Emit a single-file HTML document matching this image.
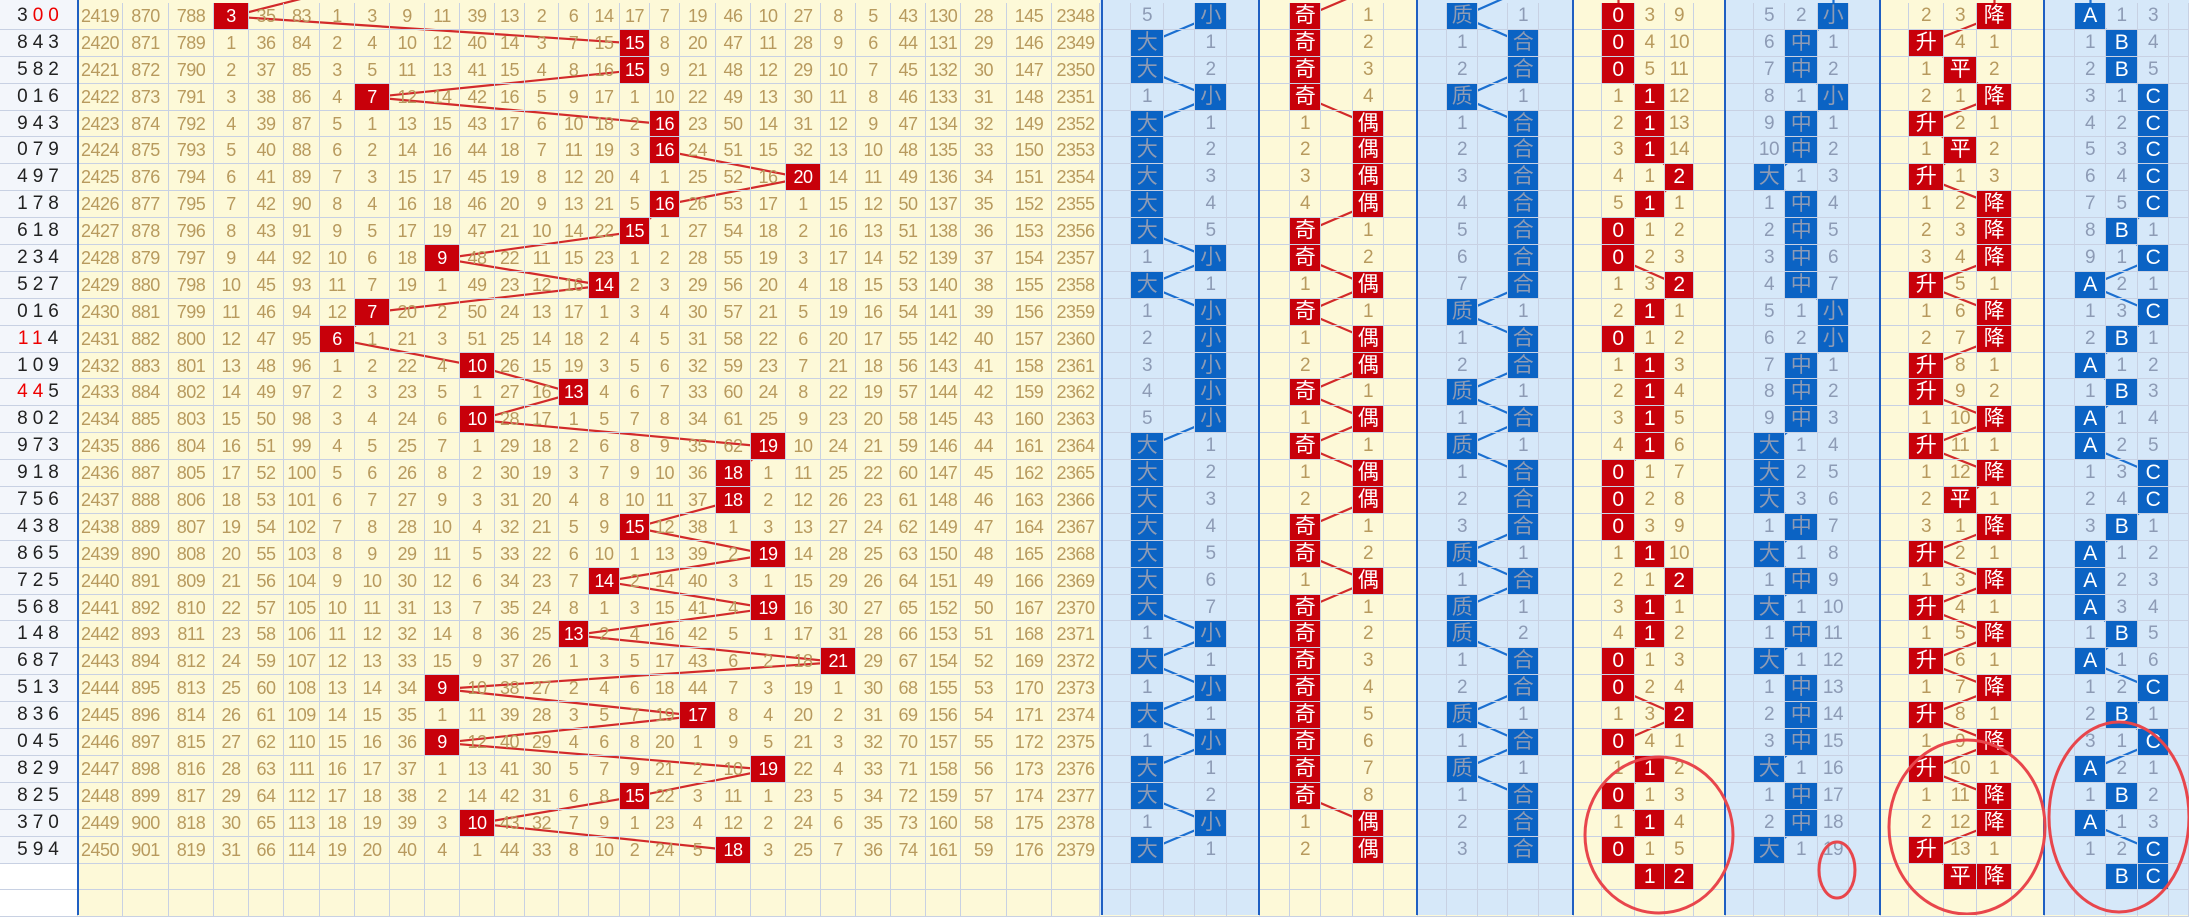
<!DOCTYPE html>
<html><head><meta charset="utf-8"><style>
html,body{margin:0;padding:0}
body{width:2189px;height:915px;overflow:hidden;position:relative;background:#fdf9d8;font-family:"Liberation Sans","Noto Sans CJK SC",sans-serif}
.bg{position:absolute;top:0;height:915px}
.ln{position:absolute;top:0;height:915px;width:2px;background:#1f5fc2;z-index:3}
#rows{position:absolute;top:3px;left:0;z-index:2}
.r{display:grid;height:26.9px;grid-template-columns:78px 45px 46px 45px 35px 35px 36px 35px 35px 35px 35px 35px 30px 34px 30px 31px 30px 30px 36px 35px 35px 35px 35px 35px 35px 35px 46px 45px 48px 31px 33px 31px 32px 33px 30px 31px 32px 31px 34px 29px 31px 30px 31px 35px 28px 33px 30px 29px 32px 28px 31px 33px 31px 32px 28px 35px 33px 35px 33px 30px 31px 32px 31px 20px}
.r>*{display:block;box-sizing:border-box;border-right:1px solid #c8d1e3;border-bottom:1px solid #c8d1e3;text-align:center;line-height:26px;font-size:18px;color:#b89a5e;font-style:normal;font-weight:normal;text-decoration:none;overflow:hidden;white-space:nowrap;letter-spacing:-0.5px}
.r>b{background:#c8000a;color:#fff}
.r>u{background:#0b63c4;color:#fff}
.r>:nth-child(n+30){font-size:19px}
.r>b:nth-child(n+30),.r>u:nth-child(n+30){font-size:21px}
.r>:nth-child(n+30):nth-child(-n+34),.r>:nth-child(n+40):nth-child(-n+44),.r>:nth-child(n+50):nth-child(-n+54),.r>:nth-child(n+60){color:#8d9bb5}
.r>b:nth-child(n+30),.r>u:nth-child(n+30){color:#fff}
.r>:first-child{color:#222;letter-spacing:5px;font-size:19px;background:#f3f6fb;padding-left:4px}
em{color:#e00;font-style:normal}
.r.x>:first-child{background:#fff}
svg{position:absolute;left:0;top:0}
</style></head><body>
<div class="bg" style="left:0;width:78px;background:#f3f6fb"></div>
<div class="bg" style="left:78px;width:1022px;background:#fdf9d8"></div>
<div class="bg" style="left:1100px;width:160px;background:#d6e8f9"></div>
<div class="bg" style="left:1260px;width:158px;background:#fdf9d8"></div>
<div class="bg" style="left:1418px;width:156px;background:#d6e8f9"></div>
<div class="bg" style="left:1574px;width:152px;background:#fdf9d8"></div>
<div class="bg" style="left:1726px;width:155px;background:#d6e8f9"></div>
<div class="bg" style="left:1881px;width:164px;background:#fdf9d8"></div>
<div class="bg" style="left:2045px;width:144px;background:#d6e8f9"></div>
<svg width="2189" height="915" style="z-index:1" fill="none" stroke-width="2.2">
<polyline stroke="#d22a2a" points="337.5,-10.4 231.5,16.5 635,43.4 635,70.3 372.5,97.2 665,124.1 665,151 803.5,177.9 665,204.8 635,231.7 442.5,258.6 604.5,285.5 372.5,312.4 337.5,339.3 477.5,366.2 574,393.1 477.5,420 768.5,446.9 733.5,473.8 733.5,500.7 635,527.6 768.5,554.5 604.5,581.4 768.5,608.3 574,635.2 838.5,662.1 442.5,689 698,715.9 442.5,742.8 768.5,769.7 635,796.6 477.5,823.5 733.5,850.4"/>
<polyline stroke="#1b6fd0" points="1211,16.5 1147.5,43.4 1147.5,70.3 1211,97.2 1147.5,124.1 1147.5,231.7 1211,258.6 1147.5,285.5 1211,312.4 1211,420 1147.5,446.9 1147.5,608.3 1211,635.2 1147.5,662.1 1211,689 1147.5,715.9 1211,742.8 1147.5,769.7 1147.5,796.6 1211,823.5 1147.5,850.4"/>
<polyline stroke="#d22a2a" points="1368.5,-10.4 1305.5,16.5 1305.5,97.2 1368.5,124.1 1368.5,204.8 1305.5,231.7 1305.5,258.6 1368.5,285.5 1305.5,312.4 1368.5,339.3 1368.5,366.2 1305.5,393.1 1368.5,420 1305.5,446.9 1368.5,473.8 1368.5,500.7 1305.5,527.6 1305.5,554.5 1368.5,581.4 1305.5,608.3 1305.5,796.6 1368.5,823.5 1368.5,850.4"/>
<polyline stroke="#1b6fd0" points="1523.5,-10.4 1462.5,16.5 1523.5,43.4 1523.5,70.3 1462.5,97.2 1523.5,124.1 1523.5,285.5 1462.5,312.4 1523.5,339.3 1523.5,366.2 1462.5,393.1 1523.5,420 1462.5,446.9 1523.5,473.8 1523.5,527.6 1462.5,554.5 1523.5,581.4 1462.5,608.3 1462.5,635.2 1523.5,662.1 1523.5,689 1462.5,715.9 1523.5,742.8 1462.5,769.7 1523.5,796.6 1523.5,850.4"/>
<polyline stroke="#d22a2a" points="1618.5,-10.4 1618.5,70.3 1650,97.2 1650,151 1679.5,177.9 1650,204.8 1618.5,231.7 1618.5,258.6 1679.5,285.5 1650,312.4 1618.5,339.3 1650,366.2 1650,446.9 1618.5,473.8 1618.5,527.6 1650,554.5 1679.5,581.4 1650,608.3 1650,635.2 1618.5,662.1 1618.5,689 1679.5,715.9 1618.5,742.8 1650,769.7 1618.5,796.6 1650,823.5 1618.5,850.4"/>
<polyline stroke="#1b6fd0" points="1833.5,-10.4 1833.5,16.5 1801.5,43.4 1801.5,70.3 1833.5,97.2 1801.5,124.1 1801.5,151 1769.5,177.9 1801.5,204.8 1801.5,285.5 1833.5,312.4 1833.5,339.3 1801.5,366.2 1801.5,420 1769.5,446.9 1769.5,500.7 1801.5,527.6 1769.5,554.5 1801.5,581.4 1769.5,608.3 1801.5,635.2 1769.5,662.1 1801.5,689 1801.5,742.8 1769.5,769.7 1801.5,796.6 1801.5,823.5 1769.5,850.4"/>
<polyline stroke="#d22a2a" points="1994.5,-10.4 1994.5,16.5 1926.5,43.4 1960.5,70.3 1994.5,97.2 1926.5,124.1 1960.5,151 1926.5,177.9 1994.5,204.8 1994.5,258.6 1926.5,285.5 1994.5,312.4 1994.5,339.3 1926.5,366.2 1926.5,393.1 1994.5,420 1926.5,446.9 1994.5,473.8 1960.5,500.7 1994.5,527.6 1926.5,554.5 1994.5,581.4 1926.5,608.3 1994.5,635.2 1926.5,662.1 1994.5,689 1926.5,715.9 1994.5,742.8 1926.5,769.7 1994.5,796.6 1994.5,823.5 1926.5,850.4 1960.5,877.3"/>
<polyline stroke="#1b6fd0" points="2090.5,-10.4 2090.5,16.5 2122,43.4 2122,70.3 2153.5,97.2 2153.5,204.8 2122,231.7 2153.5,258.6 2090.5,285.5 2153.5,312.4 2122,339.3 2090.5,366.2 2122,393.1 2090.5,420 2090.5,446.9 2153.5,473.8 2153.5,500.7 2122,527.6 2090.5,554.5 2090.5,608.3 2122,635.2 2090.5,662.1 2153.5,689 2122,715.9 2153.5,742.8 2090.5,769.7 2122,796.6 2090.5,823.5 2153.5,850.4"/>
</svg>
<div id="rows">
<div class=r><i>3<em>00</em></i><i>2419</i><i>870</i><i>788</i><b>3</b><i>35</i><i>83</i><i>1</i><i>3</i><i>9</i><i>11</i><i>39</i><i>13</i><i>2</i><i>6</i><i>14</i><i>17</i><i>7</i><i>19</i><i>46</i><i>10</i><i>27</i><i>8</i><i>5</i><i>43</i><i>130</i><i>28</i><i>145</i><i>2348</i><i></i><i>5</i><i></i><u>小</u><i></i><i></i><b>奇</b><i></i><i>1</i><i></i><i></i><u>质</u><i></i><i>1</i><i></i><i></i><b>0</b><i>3</i><i>9</i><i></i><i></i><i>5</i><i>2</i><u>小</u><i></i><i></i><i>2</i><i>3</i><b>降</b><i></i><i></i><u>A</u><i>1</i><i>3</i><i></i></div>
<div class=r><i>843</i><i>2420</i><i>871</i><i>789</i><i>1</i><i>36</i><i>84</i><i>2</i><i>4</i><i>10</i><i>12</i><i>40</i><i>14</i><i>3</i><i>7</i><i>15</i><b>15</b><i>8</i><i>20</i><i>47</i><i>11</i><i>28</i><i>9</i><i>6</i><i>44</i><i>131</i><i>29</i><i>146</i><i>2349</i><i></i><u>大</u><i></i><i>1</i><i></i><i></i><b>奇</b><i></i><i>2</i><i></i><i></i><i>1</i><i></i><u>合</u><i></i><i></i><b>0</b><i>4</i><i>10</i><i></i><i></i><i>6</i><u>中</u><i>1</i><i></i><i></i><b>升</b><i>4</i><i>1</i><i></i><i></i><i>1</i><u>B</u><i>4</i><i></i></div>
<div class=r><i>582</i><i>2421</i><i>872</i><i>790</i><i>2</i><i>37</i><i>85</i><i>3</i><i>5</i><i>11</i><i>13</i><i>41</i><i>15</i><i>4</i><i>8</i><i>16</i><b>15</b><i>9</i><i>21</i><i>48</i><i>12</i><i>29</i><i>10</i><i>7</i><i>45</i><i>132</i><i>30</i><i>147</i><i>2350</i><i></i><u>大</u><i></i><i>2</i><i></i><i></i><b>奇</b><i></i><i>3</i><i></i><i></i><i>2</i><i></i><u>合</u><i></i><i></i><b>0</b><i>5</i><i>11</i><i></i><i></i><i>7</i><u>中</u><i>2</i><i></i><i></i><i>1</i><b>平</b><i>2</i><i></i><i></i><i>2</i><u>B</u><i>5</i><i></i></div>
<div class=r><i>016</i><i>2422</i><i>873</i><i>791</i><i>3</i><i>38</i><i>86</i><i>4</i><b>7</b><i>12</i><i>14</i><i>42</i><i>16</i><i>5</i><i>9</i><i>17</i><i>1</i><i>10</i><i>22</i><i>49</i><i>13</i><i>30</i><i>11</i><i>8</i><i>46</i><i>133</i><i>31</i><i>148</i><i>2351</i><i></i><i>1</i><i></i><u>小</u><i></i><i></i><b>奇</b><i></i><i>4</i><i></i><i></i><u>质</u><i></i><i>1</i><i></i><i></i><i>1</i><b>1</b><i>12</i><i></i><i></i><i>8</i><i>1</i><u>小</u><i></i><i></i><i>2</i><i>1</i><b>降</b><i></i><i></i><i>3</i><i>1</i><u>C</u><i></i></div>
<div class=r><i>943</i><i>2423</i><i>874</i><i>792</i><i>4</i><i>39</i><i>87</i><i>5</i><i>1</i><i>13</i><i>15</i><i>43</i><i>17</i><i>6</i><i>10</i><i>18</i><i>2</i><b>16</b><i>23</i><i>50</i><i>14</i><i>31</i><i>12</i><i>9</i><i>47</i><i>134</i><i>32</i><i>149</i><i>2352</i><i></i><u>大</u><i></i><i>1</i><i></i><i></i><i>1</i><i></i><b>偶</b><i></i><i></i><i>1</i><i></i><u>合</u><i></i><i></i><i>2</i><b>1</b><i>13</i><i></i><i></i><i>9</i><u>中</u><i>1</i><i></i><i></i><b>升</b><i>2</i><i>1</i><i></i><i></i><i>4</i><i>2</i><u>C</u><i></i></div>
<div class=r><i>079</i><i>2424</i><i>875</i><i>793</i><i>5</i><i>40</i><i>88</i><i>6</i><i>2</i><i>14</i><i>16</i><i>44</i><i>18</i><i>7</i><i>11</i><i>19</i><i>3</i><b>16</b><i>24</i><i>51</i><i>15</i><i>32</i><i>13</i><i>10</i><i>48</i><i>135</i><i>33</i><i>150</i><i>2353</i><i></i><u>大</u><i></i><i>2</i><i></i><i></i><i>2</i><i></i><b>偶</b><i></i><i></i><i>2</i><i></i><u>合</u><i></i><i></i><i>3</i><b>1</b><i>14</i><i></i><i></i><i>10</i><u>中</u><i>2</i><i></i><i></i><i>1</i><b>平</b><i>2</i><i></i><i></i><i>5</i><i>3</i><u>C</u><i></i></div>
<div class=r><i>497</i><i>2425</i><i>876</i><i>794</i><i>6</i><i>41</i><i>89</i><i>7</i><i>3</i><i>15</i><i>17</i><i>45</i><i>19</i><i>8</i><i>12</i><i>20</i><i>4</i><i>1</i><i>25</i><i>52</i><i>16</i><b>20</b><i>14</i><i>11</i><i>49</i><i>136</i><i>34</i><i>151</i><i>2354</i><i></i><u>大</u><i></i><i>3</i><i></i><i></i><i>3</i><i></i><b>偶</b><i></i><i></i><i>3</i><i></i><u>合</u><i></i><i></i><i>4</i><i>1</i><b>2</b><i></i><i></i><u>大</u><i>1</i><i>3</i><i></i><i></i><b>升</b><i>1</i><i>3</i><i></i><i></i><i>6</i><i>4</i><u>C</u><i></i></div>
<div class=r><i>178</i><i>2426</i><i>877</i><i>795</i><i>7</i><i>42</i><i>90</i><i>8</i><i>4</i><i>16</i><i>18</i><i>46</i><i>20</i><i>9</i><i>13</i><i>21</i><i>5</i><b>16</b><i>26</i><i>53</i><i>17</i><i>1</i><i>15</i><i>12</i><i>50</i><i>137</i><i>35</i><i>152</i><i>2355</i><i></i><u>大</u><i></i><i>4</i><i></i><i></i><i>4</i><i></i><b>偶</b><i></i><i></i><i>4</i><i></i><u>合</u><i></i><i></i><i>5</i><b>1</b><i>1</i><i></i><i></i><i>1</i><u>中</u><i>4</i><i></i><i></i><i>1</i><i>2</i><b>降</b><i></i><i></i><i>7</i><i>5</i><u>C</u><i></i></div>
<div class=r><i>618</i><i>2427</i><i>878</i><i>796</i><i>8</i><i>43</i><i>91</i><i>9</i><i>5</i><i>17</i><i>19</i><i>47</i><i>21</i><i>10</i><i>14</i><i>22</i><b>15</b><i>1</i><i>27</i><i>54</i><i>18</i><i>2</i><i>16</i><i>13</i><i>51</i><i>138</i><i>36</i><i>153</i><i>2356</i><i></i><u>大</u><i></i><i>5</i><i></i><i></i><b>奇</b><i></i><i>1</i><i></i><i></i><i>5</i><i></i><u>合</u><i></i><i></i><b>0</b><i>1</i><i>2</i><i></i><i></i><i>2</i><u>中</u><i>5</i><i></i><i></i><i>2</i><i>3</i><b>降</b><i></i><i></i><i>8</i><u>B</u><i>1</i><i></i></div>
<div class=r><i>234</i><i>2428</i><i>879</i><i>797</i><i>9</i><i>44</i><i>92</i><i>10</i><i>6</i><i>18</i><b>9</b><i>48</i><i>22</i><i>11</i><i>15</i><i>23</i><i>1</i><i>2</i><i>28</i><i>55</i><i>19</i><i>3</i><i>17</i><i>14</i><i>52</i><i>139</i><i>37</i><i>154</i><i>2357</i><i></i><i>1</i><i></i><u>小</u><i></i><i></i><b>奇</b><i></i><i>2</i><i></i><i></i><i>6</i><i></i><u>合</u><i></i><i></i><b>0</b><i>2</i><i>3</i><i></i><i></i><i>3</i><u>中</u><i>6</i><i></i><i></i><i>3</i><i>4</i><b>降</b><i></i><i></i><i>9</i><i>1</i><u>C</u><i></i></div>
<div class=r><i>527</i><i>2429</i><i>880</i><i>798</i><i>10</i><i>45</i><i>93</i><i>11</i><i>7</i><i>19</i><i>1</i><i>49</i><i>23</i><i>12</i><i>16</i><b>14</b><i>2</i><i>3</i><i>29</i><i>56</i><i>20</i><i>4</i><i>18</i><i>15</i><i>53</i><i>140</i><i>38</i><i>155</i><i>2358</i><i></i><u>大</u><i></i><i>1</i><i></i><i></i><i>1</i><i></i><b>偶</b><i></i><i></i><i>7</i><i></i><u>合</u><i></i><i></i><i>1</i><i>3</i><b>2</b><i></i><i></i><i>4</i><u>中</u><i>7</i><i></i><i></i><b>升</b><i>5</i><i>1</i><i></i><i></i><u>A</u><i>2</i><i>1</i><i></i></div>
<div class=r><i>016</i><i>2430</i><i>881</i><i>799</i><i>11</i><i>46</i><i>94</i><i>12</i><b>7</b><i>20</i><i>2</i><i>50</i><i>24</i><i>13</i><i>17</i><i>1</i><i>3</i><i>4</i><i>30</i><i>57</i><i>21</i><i>5</i><i>19</i><i>16</i><i>54</i><i>141</i><i>39</i><i>156</i><i>2359</i><i></i><i>1</i><i></i><u>小</u><i></i><i></i><b>奇</b><i></i><i>1</i><i></i><i></i><u>质</u><i></i><i>1</i><i></i><i></i><i>2</i><b>1</b><i>1</i><i></i><i></i><i>5</i><i>1</i><u>小</u><i></i><i></i><i>1</i><i>6</i><b>降</b><i></i><i></i><i>1</i><i>3</i><u>C</u><i></i></div>
<div class=r><i><em>11</em>4</i><i>2431</i><i>882</i><i>800</i><i>12</i><i>47</i><i>95</i><b>6</b><i>1</i><i>21</i><i>3</i><i>51</i><i>25</i><i>14</i><i>18</i><i>2</i><i>4</i><i>5</i><i>31</i><i>58</i><i>22</i><i>6</i><i>20</i><i>17</i><i>55</i><i>142</i><i>40</i><i>157</i><i>2360</i><i></i><i>2</i><i></i><u>小</u><i></i><i></i><i>1</i><i></i><b>偶</b><i></i><i></i><i>1</i><i></i><u>合</u><i></i><i></i><b>0</b><i>1</i><i>2</i><i></i><i></i><i>6</i><i>2</i><u>小</u><i></i><i></i><i>2</i><i>7</i><b>降</b><i></i><i></i><i>2</i><u>B</u><i>1</i><i></i></div>
<div class=r><i>109</i><i>2432</i><i>883</i><i>801</i><i>13</i><i>48</i><i>96</i><i>1</i><i>2</i><i>22</i><i>4</i><b>10</b><i>26</i><i>15</i><i>19</i><i>3</i><i>5</i><i>6</i><i>32</i><i>59</i><i>23</i><i>7</i><i>21</i><i>18</i><i>56</i><i>143</i><i>41</i><i>158</i><i>2361</i><i></i><i>3</i><i></i><u>小</u><i></i><i></i><i>2</i><i></i><b>偶</b><i></i><i></i><i>2</i><i></i><u>合</u><i></i><i></i><i>1</i><b>1</b><i>3</i><i></i><i></i><i>7</i><u>中</u><i>1</i><i></i><i></i><b>升</b><i>8</i><i>1</i><i></i><i></i><u>A</u><i>1</i><i>2</i><i></i></div>
<div class=r><i><em>44</em>5</i><i>2433</i><i>884</i><i>802</i><i>14</i><i>49</i><i>97</i><i>2</i><i>3</i><i>23</i><i>5</i><i>1</i><i>27</i><i>16</i><b>13</b><i>4</i><i>6</i><i>7</i><i>33</i><i>60</i><i>24</i><i>8</i><i>22</i><i>19</i><i>57</i><i>144</i><i>42</i><i>159</i><i>2362</i><i></i><i>4</i><i></i><u>小</u><i></i><i></i><b>奇</b><i></i><i>1</i><i></i><i></i><u>质</u><i></i><i>1</i><i></i><i></i><i>2</i><b>1</b><i>4</i><i></i><i></i><i>8</i><u>中</u><i>2</i><i></i><i></i><b>升</b><i>9</i><i>2</i><i></i><i></i><i>1</i><u>B</u><i>3</i><i></i></div>
<div class=r><i>802</i><i>2434</i><i>885</i><i>803</i><i>15</i><i>50</i><i>98</i><i>3</i><i>4</i><i>24</i><i>6</i><b>10</b><i>28</i><i>17</i><i>1</i><i>5</i><i>7</i><i>8</i><i>34</i><i>61</i><i>25</i><i>9</i><i>23</i><i>20</i><i>58</i><i>145</i><i>43</i><i>160</i><i>2363</i><i></i><i>5</i><i></i><u>小</u><i></i><i></i><i>1</i><i></i><b>偶</b><i></i><i></i><i>1</i><i></i><u>合</u><i></i><i></i><i>3</i><b>1</b><i>5</i><i></i><i></i><i>9</i><u>中</u><i>3</i><i></i><i></i><i>1</i><i>10</i><b>降</b><i></i><i></i><u>A</u><i>1</i><i>4</i><i></i></div>
<div class=r><i>973</i><i>2435</i><i>886</i><i>804</i><i>16</i><i>51</i><i>99</i><i>4</i><i>5</i><i>25</i><i>7</i><i>1</i><i>29</i><i>18</i><i>2</i><i>6</i><i>8</i><i>9</i><i>35</i><i>62</i><b>19</b><i>10</i><i>24</i><i>21</i><i>59</i><i>146</i><i>44</i><i>161</i><i>2364</i><i></i><u>大</u><i></i><i>1</i><i></i><i></i><b>奇</b><i></i><i>1</i><i></i><i></i><u>质</u><i></i><i>1</i><i></i><i></i><i>4</i><b>1</b><i>6</i><i></i><i></i><u>大</u><i>1</i><i>4</i><i></i><i></i><b>升</b><i>11</i><i>1</i><i></i><i></i><u>A</u><i>2</i><i>5</i><i></i></div>
<div class=r><i>918</i><i>2436</i><i>887</i><i>805</i><i>17</i><i>52</i><i>100</i><i>5</i><i>6</i><i>26</i><i>8</i><i>2</i><i>30</i><i>19</i><i>3</i><i>7</i><i>9</i><i>10</i><i>36</i><b>18</b><i>1</i><i>11</i><i>25</i><i>22</i><i>60</i><i>147</i><i>45</i><i>162</i><i>2365</i><i></i><u>大</u><i></i><i>2</i><i></i><i></i><i>1</i><i></i><b>偶</b><i></i><i></i><i>1</i><i></i><u>合</u><i></i><i></i><b>0</b><i>1</i><i>7</i><i></i><i></i><u>大</u><i>2</i><i>5</i><i></i><i></i><i>1</i><i>12</i><b>降</b><i></i><i></i><i>1</i><i>3</i><u>C</u><i></i></div>
<div class=r><i>756</i><i>2437</i><i>888</i><i>806</i><i>18</i><i>53</i><i>101</i><i>6</i><i>7</i><i>27</i><i>9</i><i>3</i><i>31</i><i>20</i><i>4</i><i>8</i><i>10</i><i>11</i><i>37</i><b>18</b><i>2</i><i>12</i><i>26</i><i>23</i><i>61</i><i>148</i><i>46</i><i>163</i><i>2366</i><i></i><u>大</u><i></i><i>3</i><i></i><i></i><i>2</i><i></i><b>偶</b><i></i><i></i><i>2</i><i></i><u>合</u><i></i><i></i><b>0</b><i>2</i><i>8</i><i></i><i></i><u>大</u><i>3</i><i>6</i><i></i><i></i><i>2</i><b>平</b><i>1</i><i></i><i></i><i>2</i><i>4</i><u>C</u><i></i></div>
<div class=r><i>438</i><i>2438</i><i>889</i><i>807</i><i>19</i><i>54</i><i>102</i><i>7</i><i>8</i><i>28</i><i>10</i><i>4</i><i>32</i><i>21</i><i>5</i><i>9</i><b>15</b><i>12</i><i>38</i><i>1</i><i>3</i><i>13</i><i>27</i><i>24</i><i>62</i><i>149</i><i>47</i><i>164</i><i>2367</i><i></i><u>大</u><i></i><i>4</i><i></i><i></i><b>奇</b><i></i><i>1</i><i></i><i></i><i>3</i><i></i><u>合</u><i></i><i></i><b>0</b><i>3</i><i>9</i><i></i><i></i><i>1</i><u>中</u><i>7</i><i></i><i></i><i>3</i><i>1</i><b>降</b><i></i><i></i><i>3</i><u>B</u><i>1</i><i></i></div>
<div class=r><i>865</i><i>2439</i><i>890</i><i>808</i><i>20</i><i>55</i><i>103</i><i>8</i><i>9</i><i>29</i><i>11</i><i>5</i><i>33</i><i>22</i><i>6</i><i>10</i><i>1</i><i>13</i><i>39</i><i>2</i><b>19</b><i>14</i><i>28</i><i>25</i><i>63</i><i>150</i><i>48</i><i>165</i><i>2368</i><i></i><u>大</u><i></i><i>5</i><i></i><i></i><b>奇</b><i></i><i>2</i><i></i><i></i><u>质</u><i></i><i>1</i><i></i><i></i><i>1</i><b>1</b><i>10</i><i></i><i></i><u>大</u><i>1</i><i>8</i><i></i><i></i><b>升</b><i>2</i><i>1</i><i></i><i></i><u>A</u><i>1</i><i>2</i><i></i></div>
<div class=r><i>725</i><i>2440</i><i>891</i><i>809</i><i>21</i><i>56</i><i>104</i><i>9</i><i>10</i><i>30</i><i>12</i><i>6</i><i>34</i><i>23</i><i>7</i><b>14</b><i>2</i><i>14</i><i>40</i><i>3</i><i>1</i><i>15</i><i>29</i><i>26</i><i>64</i><i>151</i><i>49</i><i>166</i><i>2369</i><i></i><u>大</u><i></i><i>6</i><i></i><i></i><i>1</i><i></i><b>偶</b><i></i><i></i><i>1</i><i></i><u>合</u><i></i><i></i><i>2</i><i>1</i><b>2</b><i></i><i></i><i>1</i><u>中</u><i>9</i><i></i><i></i><i>1</i><i>3</i><b>降</b><i></i><i></i><u>A</u><i>2</i><i>3</i><i></i></div>
<div class=r><i>568</i><i>2441</i><i>892</i><i>810</i><i>22</i><i>57</i><i>105</i><i>10</i><i>11</i><i>31</i><i>13</i><i>7</i><i>35</i><i>24</i><i>8</i><i>1</i><i>3</i><i>15</i><i>41</i><i>4</i><b>19</b><i>16</i><i>30</i><i>27</i><i>65</i><i>152</i><i>50</i><i>167</i><i>2370</i><i></i><u>大</u><i></i><i>7</i><i></i><i></i><b>奇</b><i></i><i>1</i><i></i><i></i><u>质</u><i></i><i>1</i><i></i><i></i><i>3</i><b>1</b><i>1</i><i></i><i></i><u>大</u><i>1</i><i>10</i><i></i><i></i><b>升</b><i>4</i><i>1</i><i></i><i></i><u>A</u><i>3</i><i>4</i><i></i></div>
<div class=r><i>148</i><i>2442</i><i>893</i><i>811</i><i>23</i><i>58</i><i>106</i><i>11</i><i>12</i><i>32</i><i>14</i><i>8</i><i>36</i><i>25</i><b>13</b><i>2</i><i>4</i><i>16</i><i>42</i><i>5</i><i>1</i><i>17</i><i>31</i><i>28</i><i>66</i><i>153</i><i>51</i><i>168</i><i>2371</i><i></i><i>1</i><i></i><u>小</u><i></i><i></i><b>奇</b><i></i><i>2</i><i></i><i></i><u>质</u><i></i><i>2</i><i></i><i></i><i>4</i><b>1</b><i>2</i><i></i><i></i><i>1</i><u>中</u><i>11</i><i></i><i></i><i>1</i><i>5</i><b>降</b><i></i><i></i><i>1</i><u>B</u><i>5</i><i></i></div>
<div class=r><i>687</i><i>2443</i><i>894</i><i>812</i><i>24</i><i>59</i><i>107</i><i>12</i><i>13</i><i>33</i><i>15</i><i>9</i><i>37</i><i>26</i><i>1</i><i>3</i><i>5</i><i>17</i><i>43</i><i>6</i><i>2</i><i>18</i><b>21</b><i>29</i><i>67</i><i>154</i><i>52</i><i>169</i><i>2372</i><i></i><u>大</u><i></i><i>1</i><i></i><i></i><b>奇</b><i></i><i>3</i><i></i><i></i><i>1</i><i></i><u>合</u><i></i><i></i><b>0</b><i>1</i><i>3</i><i></i><i></i><u>大</u><i>1</i><i>12</i><i></i><i></i><b>升</b><i>6</i><i>1</i><i></i><i></i><u>A</u><i>1</i><i>6</i><i></i></div>
<div class=r><i>513</i><i>2444</i><i>895</i><i>813</i><i>25</i><i>60</i><i>108</i><i>13</i><i>14</i><i>34</i><b>9</b><i>10</i><i>38</i><i>27</i><i>2</i><i>4</i><i>6</i><i>18</i><i>44</i><i>7</i><i>3</i><i>19</i><i>1</i><i>30</i><i>68</i><i>155</i><i>53</i><i>170</i><i>2373</i><i></i><i>1</i><i></i><u>小</u><i></i><i></i><b>奇</b><i></i><i>4</i><i></i><i></i><i>2</i><i></i><u>合</u><i></i><i></i><b>0</b><i>2</i><i>4</i><i></i><i></i><i>1</i><u>中</u><i>13</i><i></i><i></i><i>1</i><i>7</i><b>降</b><i></i><i></i><i>1</i><i>2</i><u>C</u><i></i></div>
<div class=r><i>836</i><i>2445</i><i>896</i><i>814</i><i>26</i><i>61</i><i>109</i><i>14</i><i>15</i><i>35</i><i>1</i><i>11</i><i>39</i><i>28</i><i>3</i><i>5</i><i>7</i><i>19</i><b>17</b><i>8</i><i>4</i><i>20</i><i>2</i><i>31</i><i>69</i><i>156</i><i>54</i><i>171</i><i>2374</i><i></i><u>大</u><i></i><i>1</i><i></i><i></i><b>奇</b><i></i><i>5</i><i></i><i></i><u>质</u><i></i><i>1</i><i></i><i></i><i>1</i><i>3</i><b>2</b><i></i><i></i><i>2</i><u>中</u><i>14</i><i></i><i></i><b>升</b><i>8</i><i>1</i><i></i><i></i><i>2</i><u>B</u><i>1</i><i></i></div>
<div class=r><i>045</i><i>2446</i><i>897</i><i>815</i><i>27</i><i>62</i><i>110</i><i>15</i><i>16</i><i>36</i><b>9</b><i>12</i><i>40</i><i>29</i><i>4</i><i>6</i><i>8</i><i>20</i><i>1</i><i>9</i><i>5</i><i>21</i><i>3</i><i>32</i><i>70</i><i>157</i><i>55</i><i>172</i><i>2375</i><i></i><i>1</i><i></i><u>小</u><i></i><i></i><b>奇</b><i></i><i>6</i><i></i><i></i><i>1</i><i></i><u>合</u><i></i><i></i><b>0</b><i>4</i><i>1</i><i></i><i></i><i>3</i><u>中</u><i>15</i><i></i><i></i><i>1</i><i>9</i><b>降</b><i></i><i></i><i>3</i><i>1</i><u>C</u><i></i></div>
<div class=r><i>829</i><i>2447</i><i>898</i><i>816</i><i>28</i><i>63</i><i>111</i><i>16</i><i>17</i><i>37</i><i>1</i><i>13</i><i>41</i><i>30</i><i>5</i><i>7</i><i>9</i><i>21</i><i>2</i><i>10</i><b>19</b><i>22</i><i>4</i><i>33</i><i>71</i><i>158</i><i>56</i><i>173</i><i>2376</i><i></i><u>大</u><i></i><i>1</i><i></i><i></i><b>奇</b><i></i><i>7</i><i></i><i></i><u>质</u><i></i><i>1</i><i></i><i></i><i>1</i><b>1</b><i>2</i><i></i><i></i><u>大</u><i>1</i><i>16</i><i></i><i></i><b>升</b><i>10</i><i>1</i><i></i><i></i><u>A</u><i>2</i><i>1</i><i></i></div>
<div class=r><i>825</i><i>2448</i><i>899</i><i>817</i><i>29</i><i>64</i><i>112</i><i>17</i><i>18</i><i>38</i><i>2</i><i>14</i><i>42</i><i>31</i><i>6</i><i>8</i><b>15</b><i>22</i><i>3</i><i>11</i><i>1</i><i>23</i><i>5</i><i>34</i><i>72</i><i>159</i><i>57</i><i>174</i><i>2377</i><i></i><u>大</u><i></i><i>2</i><i></i><i></i><b>奇</b><i></i><i>8</i><i></i><i></i><i>1</i><i></i><u>合</u><i></i><i></i><b>0</b><i>1</i><i>3</i><i></i><i></i><i>1</i><u>中</u><i>17</i><i></i><i></i><i>1</i><i>11</i><b>降</b><i></i><i></i><i>1</i><u>B</u><i>2</i><i></i></div>
<div class=r><i>370</i><i>2449</i><i>900</i><i>818</i><i>30</i><i>65</i><i>113</i><i>18</i><i>19</i><i>39</i><i>3</i><b>10</b><i>43</i><i>32</i><i>7</i><i>9</i><i>1</i><i>23</i><i>4</i><i>12</i><i>2</i><i>24</i><i>6</i><i>35</i><i>73</i><i>160</i><i>58</i><i>175</i><i>2378</i><i></i><i>1</i><i></i><u>小</u><i></i><i></i><i>1</i><i></i><b>偶</b><i></i><i></i><i>2</i><i></i><u>合</u><i></i><i></i><i>1</i><b>1</b><i>4</i><i></i><i></i><i>2</i><u>中</u><i>18</i><i></i><i></i><i>2</i><i>12</i><b>降</b><i></i><i></i><u>A</u><i>1</i><i>3</i><i></i></div>
<div class=r><i>594</i><i>2450</i><i>901</i><i>819</i><i>31</i><i>66</i><i>114</i><i>19</i><i>20</i><i>40</i><i>4</i><i>1</i><i>44</i><i>33</i><i>8</i><i>10</i><i>2</i><i>24</i><i>5</i><b>18</b><i>3</i><i>25</i><i>7</i><i>36</i><i>74</i><i>161</i><i>59</i><i>176</i><i>2379</i><i></i><u>大</u><i></i><i>1</i><i></i><i></i><i>2</i><i></i><b>偶</b><i></i><i></i><i>3</i><i></i><u>合</u><i></i><i></i><b>0</b><i>1</i><i>5</i><i></i><i></i><u>大</u><i>1</i><i>19</i><i></i><i></i><b>升</b><i>13</i><i>1</i><i></i><i></i><i>1</i><i>2</i><u>C</u><i></i></div>
<div class="r x"><i></i><i></i><i></i><i></i><i></i><i></i><i></i><i></i><i></i><i></i><i></i><i></i><i></i><i></i><i></i><i></i><i></i><i></i><i></i><i></i><i></i><i></i><i></i><i></i><i></i><i></i><i></i><i></i><i></i><i></i><i></i><i></i><i></i><i></i><i></i><i></i><i></i><i></i><i></i><i></i><i></i><i></i><i></i><i></i><i></i><i></i><b>1</b><b>2</b><i></i><i></i><i></i><i></i><i></i><i></i><i></i><i></i><b>平</b><b>降</b><i></i><i></i><i></i><u>B</u><u>C</u><i></i></div>
<div class="r x"><i></i><i></i><i></i><i></i><i></i><i></i><i></i><i></i><i></i><i></i><i></i><i></i><i></i><i></i><i></i><i></i><i></i><i></i><i></i><i></i><i></i><i></i><i></i><i></i><i></i><i></i><i></i><i></i><i></i><i></i><i></i><i></i><i></i><i></i><i></i><i></i><i></i><i></i><i></i><i></i><i></i><i></i><i></i><i></i><i></i><i></i><i></i><i></i><i></i><i></i><i></i><i></i><i></i><i></i><i></i><i></i><i></i><i></i><i></i><i></i><i></i><i></i><i></i><i></i></div>
</div>
<div class="ln" style="left:77px"></div>
<div class="ln" style="left:1101px"></div>
<div class="ln" style="left:1258px"></div>
<div class="ln" style="left:1416px"></div>
<div class="ln" style="left:1572px"></div>
<div class="ln" style="left:1724px"></div>
<div class="ln" style="left:1879px"></div>
<div class="ln" style="left:2043px"></div>
<svg width="2189" height="915" style="z-index:4" fill="none" stroke="#e8464c" stroke-width="3">
<ellipse cx="1659" cy="835" rx="74" ry="78"/>
<ellipse cx="1837" cy="870" rx="18" ry="28"/>
<ellipse cx="1967" cy="827" rx="78" ry="87"/>
<ellipse cx="2119" cy="817" rx="70" ry="95"/>
</svg>
</body></html>
